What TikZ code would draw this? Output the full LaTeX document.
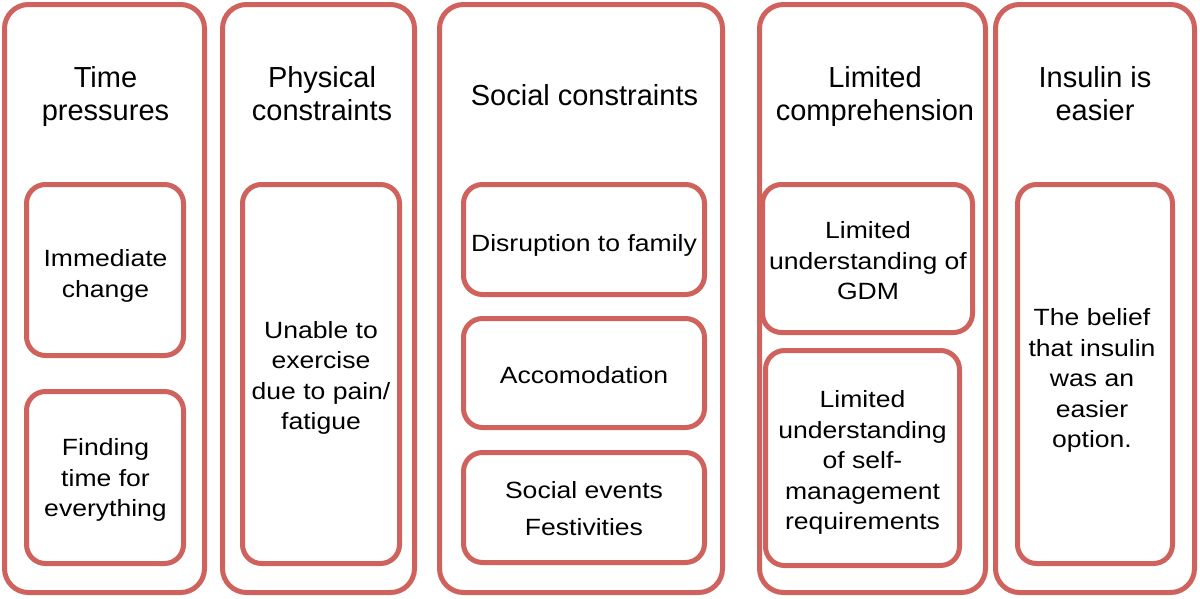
\documentclass[tikz,border=0pt]{standalone}
\usepackage{fontspec}
\setmainfont{Liberation Sans}
\newfontfamily\innerfont[FakeStretch=1.13]{Liberation Sans}
\definecolor{boxred}{HTML}{CF625C}
\tikzset{
  frame/.style={draw=boxred, line width=5pt, rounded corners=24pt, fill=white, inner sep=0pt},
  subbox/.style={draw=boxred, line width=5pt, rounded corners=19pt, fill=white, inner sep=0pt},
  subtext/.style={align=center, font=\innerfont\fontsize{23.5}{30.5}\selectfont, inner sep=0pt},
  title/.style={align=center, anchor=base, font=\fontsize{29}{33}\selectfont, inner sep=0pt}
}
\begin{document}
\begin{tikzpicture}[x=1pt,y=-1pt]
\useasboundingbox (0,0) rectangle (1200,598);
% outer frames
\node[frame, minimum width=200pt, minimum height=588pt] (o1) at (104.5,298.5) {};
\node[frame, minimum width=192pt, minimum height=588pt] (o2) at (318.5,298.5) {};
\node[frame, minimum width=283pt, minimum height=588pt] (o3) at (581,298.5) {};
\node[frame, minimum width=226pt, minimum height=588pt] (o4) at (872.5,298.5) {};
\node[frame, minimum width=199pt, minimum height=588pt] (o5) at (1095,298.5) {};
% titles
\node[title] (t1) at (105.5,120) {Time\\pressures};
\node[title] (t2) at (322,120) {Physical\\constraints};
\node[title] (t3) at (584.5,105) {Social constraints};
\node[title] (t4) at (875,120) {Limited\\comprehension};
\node[title] (t5) at (1095,120) {Insulin is\\easier};
% inner boxes
\node[subbox, minimum width=157pt, minimum height=171pt] (a1) at (105,270) {};
\node[subbox, minimum width=157pt, minimum height=172pt] (a2) at (105,477.5) {};
\node[subbox, minimum width=157pt, minimum height=379pt] (b1) at (321,374) {};
\node[subbox, minimum width=241pt, minimum height=110pt] (c1) at (584,239.5) {};
\node[subbox, minimum width=241pt, minimum height=109pt] (c2) at (584,373) {};
\node[subbox, minimum width=241pt, minimum height=110pt] (c3) at (584,507.5) {};
\node[subbox, minimum width=210pt, minimum height=148pt] (d1) at (867.5,258.5) {};
\node[subbox, minimum width=194pt, minimum height=215pt] (d2) at (862.5,458) {};
\node[subbox, minimum width=155pt, minimum height=379pt] (e1) at (1095,374) {};
% inner texts
\node[subtext] (a1t) at (105.5,276) {Immediate\\change};
\node[subtext] (a2t) at (105.5,480) {Finding\\time for\\everything};
\node[subtext] (b1t) at (321,378) {Unable to\\exercise\\due to pain/\\fatigue};
\node[subtext] (c1t) at (584,245.5) {Disruption to family};
\node[subtext] (c2t) at (584,375) {Accomodation};
\node[subtext] (c3t) at (584,508.5) {Social events\\[7pt]Festivities};
\node[subtext] (d1t) at (868,261) {Limited\\understanding of\\GDM};
\node[subtext] (d2t) at (862.5,462.5) {Limited\\understanding\\of self-\\management\\requirements};
\node[subtext] (e1t) at (1092,380.5) {The belief\\that insulin\\was an\\easier\\option.};
\end{tikzpicture}
\end{document}
